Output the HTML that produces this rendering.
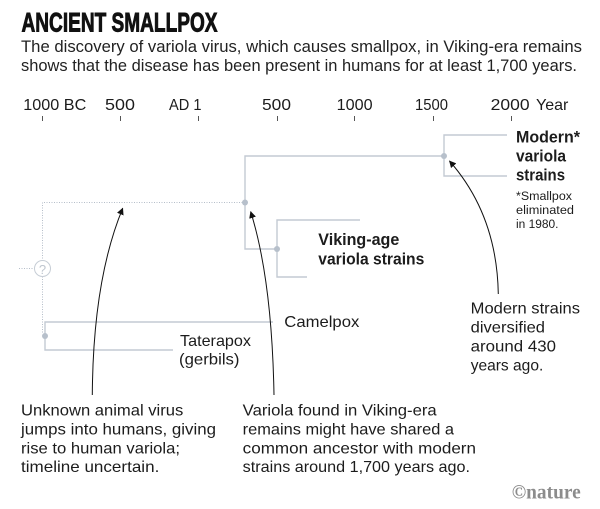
<!DOCTYPE html>
<html>
<head>
<meta charset="utf-8">
<style>
  html, body { margin: 0; padding: 0; background: #ffffff; }
  body { width: 600px; height: 509px; overflow: hidden; }
  svg { display: block; }
  text { font-family: "Liberation Sans", Arial, sans-serif; fill: #1c1c1c; }
</style>
</head>
<body>
<svg width="600" height="509" viewBox="0 0 600 509" xmlns="http://www.w3.org/2000/svg">
  <defs>
    <marker id="ah" viewBox="0 0 10 10" refX="9" refY="5" markerWidth="7" markerHeight="7" markerUnits="userSpaceOnUse" orient="auto">
      <path d="M0,0 L10,5 L0,10 z" fill="#111"/>
    </marker>
  </defs>

  <!-- Title -->
  <text x="21.5" y="31.7" font-size="27" font-weight="bold" textLength="196" lengthAdjust="spacingAndGlyphs" style="fill:#111;stroke:#111;stroke-width:0.9">ANCIENT SMALLPOX</text>
  <text x="21" y="52" font-size="16.3" textLength="561" lengthAdjust="spacingAndGlyphs" style="fill:#222">The discovery of variola virus, which causes smallpox, in Viking-era remains</text>
  <text x="21" y="71" font-size="16.3" textLength="556" lengthAdjust="spacingAndGlyphs" style="fill:#222">shows that the disease has been present in humans for at least 1,700 years.</text>

  <!-- Axis labels -->
  <g font-size="16">
    <text x="23.3" y="110" textLength="63" lengthAdjust="spacingAndGlyphs">1000 BC</text>
    <text x="105" y="110" textLength="30" lengthAdjust="spacingAndGlyphs">500</text>
    <text x="169" y="110" textLength="32.5" lengthAdjust="spacingAndGlyphs">AD 1</text>
    <text x="262" y="110" textLength="29" lengthAdjust="spacingAndGlyphs">500</text>
    <text x="336.7" y="110" textLength="36" lengthAdjust="spacingAndGlyphs">1000</text>
    <text x="415" y="110" textLength="33" lengthAdjust="spacingAndGlyphs">1500</text>
    <text x="490.7" y="110" textLength="39" lengthAdjust="spacingAndGlyphs">2000</text>
    <text x="536" y="110" textLength="32.3" lengthAdjust="spacingAndGlyphs">Year</text>
  </g>
  <g stroke="#555" stroke-width="1">
    <line x1="42.5" y1="116" x2="42.5" y2="121"/>
    <line x1="120.5" y1="116" x2="120.5" y2="121"/>
    <line x1="198.5" y1="116" x2="198.5" y2="121"/>
    <line x1="277.5" y1="116" x2="277.5" y2="121"/>
    <line x1="354.5" y1="116" x2="354.5" y2="121"/>
    <line x1="433.5" y1="116" x2="433.5" y2="121"/>
    <line x1="511.5" y1="116" x2="511.5" y2="121"/>
  </g>

  <!-- Tree solid lines -->
  <g stroke="#c3cad3" stroke-width="1.4" fill="none">
    <polyline points="444,156 245,156 245,249 277,249"/>
    <polyline points="360,220 277,220 277,277 307,277"/>
    <polyline points="507,135 444,135 444,176 507,176"/>
    <polyline points="273,322 45,322 45,350 173,350"/>
  </g>
  <!-- Dotted lines -->
  <g stroke="#b5bec9" stroke-width="1" fill="none" stroke-dasharray="1,1.5">
    <polyline points="245,202.5 42.5,202.5 42.5,260"/>
    <line x1="42.5" y1="276.5" x2="42.5" y2="334"/>
    <line x1="19" y1="268.5" x2="34" y2="268.5"/>
  </g>
  <circle cx="42.5" cy="268.5" r="8" fill="none" stroke="#c6cdd5" stroke-width="1"/>
  <text x="42.5" y="274" font-size="13" text-anchor="middle" style="fill:#bfc6cf">?</text>

  <!-- Dots -->
  <g fill="#b7c0cb">
    <circle cx="245" cy="202.5" r="3"/>
    <circle cx="277" cy="249" r="3"/>
    <circle cx="444" cy="156" r="3"/>
    <circle cx="45" cy="336" r="3"/>
  </g>

  <!-- Labels -->
  <g font-weight="bold" font-size="17" style="fill:#111">
    <text x="516" y="142.5" textLength="64" lengthAdjust="spacingAndGlyphs">Modern*</text>
    <text x="516" y="161.5" textLength="50" lengthAdjust="spacingAndGlyphs">variola</text>
    <text x="516" y="180.5" textLength="49" lengthAdjust="spacingAndGlyphs">strains</text>
    <text x="318.3" y="245" textLength="81" lengthAdjust="spacingAndGlyphs">Viking-age</text>
    <text x="318.3" y="264.5" textLength="106" lengthAdjust="spacingAndGlyphs">variola strains</text>
  </g>
  <g font-size="12.3" style="fill:#333">
    <text x="516" y="200" textLength="56" lengthAdjust="spacingAndGlyphs">*Smallpox</text>
    <text x="516" y="214" textLength="58" lengthAdjust="spacingAndGlyphs">eliminated</text>
    <text x="516" y="228" textLength="42.5" lengthAdjust="spacingAndGlyphs">in 1980.</text>
  </g>
  <g font-size="16">
    <text x="284.3" y="327" textLength="75" lengthAdjust="spacingAndGlyphs">Camelpox</text>
    <text x="180" y="346" textLength="71" lengthAdjust="spacingAndGlyphs">Taterapox</text>
    <text x="179" y="364.5" textLength="60.5" lengthAdjust="spacingAndGlyphs">(gerbils)</text>

    <text x="470.7" y="313.3" textLength="109.3" lengthAdjust="spacingAndGlyphs">Modern strains</text>
    <text x="470.7" y="332.5" textLength="74.3" lengthAdjust="spacingAndGlyphs">diversified</text>
    <text x="470.7" y="351.7" textLength="85.3" lengthAdjust="spacingAndGlyphs">around 430</text>
    <text x="470.7" y="370.5" textLength="72.6" lengthAdjust="spacingAndGlyphs">years ago.</text>

    <text x="21" y="415.5" textLength="162.3" lengthAdjust="spacingAndGlyphs">Unknown animal virus</text>
    <text x="21" y="434.5" textLength="195" lengthAdjust="spacingAndGlyphs">jumps into humans, giving</text>
    <text x="21" y="453.3" textLength="159" lengthAdjust="spacingAndGlyphs">rise to human variola;</text>
    <text x="21" y="472" textLength="138.3" lengthAdjust="spacingAndGlyphs">timeline uncertain.</text>

    <text x="242.7" y="415.5" textLength="194" lengthAdjust="spacingAndGlyphs">Variola found in Viking-era</text>
    <text x="242.7" y="434.5" textLength="211.3" lengthAdjust="spacingAndGlyphs">remains might have shared a</text>
    <text x="242.7" y="453.3" textLength="233.3" lengthAdjust="spacingAndGlyphs">common ancestor with modern</text>
    <text x="242.7" y="472" textLength="227.3" lengthAdjust="spacingAndGlyphs">strains around 1,700 years ago.</text>
  </g>

  <!-- Arrows -->
  <g stroke="#111" stroke-width="1" fill="none">
    <path d="M92.3,395 Q93,280 122.7,208.3" marker-end="url(#ah)"/>
    <path d="M274,395 Q272,280 250.7,211.7" marker-end="url(#ah)"/>
    <path d="M498.3,294 Q497,215 449.5,161" marker-end="url(#ah)"/>
  </g>

  <!-- Nature logo -->
  <text x="511.7" y="498.3" font-size="20" font-weight="bold" textLength="69" lengthAdjust="spacingAndGlyphs" style="font-family:'Liberation Serif', serif; fill:#8c8c8c">©nature</text>
</svg>
</body>
</html>
